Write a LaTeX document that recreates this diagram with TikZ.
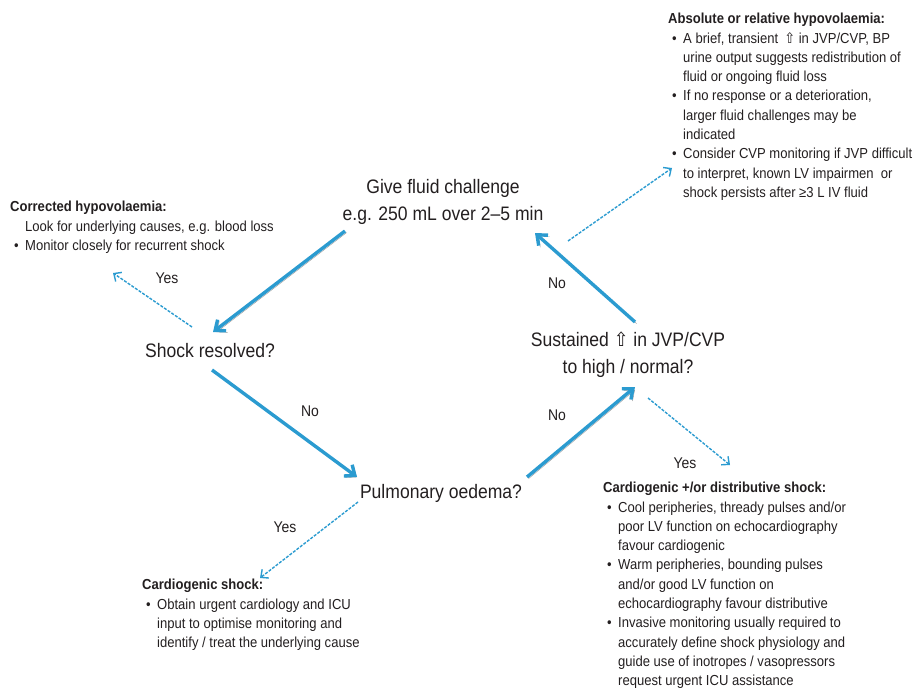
\documentclass[tikz,border=0pt]{standalone}
\usepackage{fontspec}
\setmainfont{Liberation Sans}[FakeStretch=0.9]
\newfontfamily\symfont{DejaVu Sans}[FakeStretch=0.9]
\usetikzlibrary{arrows.meta}
\definecolor{flowblue}{HTML}{2B9BD0}
\definecolor{inkgray}{HTML}{231F20}
\newcommand{\upar}{{\symfont ⇧}}
\newcommand{\itm}{\hspace*{4bp}\makebox[11bp][l]{\textbullet}}
\newcommand{\ind}{\hspace*{15bp}}
\tikzset{
  main/.style={font=\fontsize{19.5bp}{27bp}\selectfont, align=center, text=inkgray, inner sep=0},
  note/.style={font=\fontsize{14.5bp}{19.3bp}\selectfont, align=left, anchor=north west, text=inkgray, inner sep=0},
  lbl/.style={font=\fontsize{15.5bp}{18bp}\selectfont, text=inkgray, inner sep=0},
  flow/.style={draw=flowblue, line width=3.4bp, -{Straight Barb[length=8.5bp,width=14bp]},
    preaction={draw=gray!85, transform canvas={shift={(1.6bp,-1.6bp)}}}},
  hint/.style={draw=flowblue, line width=1.4bp, dash pattern=on 3bp off 1.4bp,
    -{Straight Barb[length=6bp,width=11bp]}}
}
\begin{document}
\begin{tikzpicture}[x=1bp, y=-1bp]
    % 1. Page frame
    \useasboundingbox (0,0) rectangle (920,688);

    % 2. Questions of the flow
    \node[main] (fluid) at (443,202) {Give fluid challenge\\e.g. 250 mL over 2–5 min};
    \node[main] (shock) at (210,351) {Shock resolved?};
    \node[main] (pulm) at (441,493) {Pulmonary oedema?};
    \node[main] (sust) at (628,355) {Sustained \upar\ in JVP/CVP\\to high / normal?};

    % 3. Side notes
    \node[note] (corr) at (10,201) {\textbf{Corrected hypovolaemia:}\\
        \ind Look for underlying causes, e.g. blood loss\\
        \itm Monitor closely for recurrent shock};
    \node[note] (abs) at (668,13) {\textbf{Absolute or relative hypovolaemia:}\\
        \itm A brief, transient \,\upar\ in JVP/CVP, BP\\
        \ind urine output suggests redistribution of\\
        \ind fluid or ongoing fluid loss\\
        \itm If no response or a deterioration,\\
        \ind larger fluid challenges may be\\
        \ind indicated\\
        \itm Consider CVP monitoring if JVP difficult\\
        \ind to interpret, known LV impairmen\ \ or\\
        \ind shock persists after ≥3 L IV fluid};
    \node[note] (card) at (603,482) {\textbf{Cardiogenic +/or distributive shock:}\\
        \itm Cool peripheries, thready pulses and/or\\
        \ind poor LV function on echocardiography\\
        \ind favour cardiogenic\\
        \itm Warm peripheries, bounding pulses\\
        \ind and/or good LV function on\\
        \ind echocardiography favour distributive\\
        \itm Invasive monitoring usually required to\\
        \ind accurately define shock physiology and\\
        \ind guide use of inotropes / vasopressors\\
        \ind request urgent ICU assistance};
    \node[note] (cshock) at (142,579) {\textbf{Cardiogenic shock:}\\
        \itm Obtain urgent cardiology and ICU\\
        \ind input to optimise monitoring and\\
        \ind identify / treat the underlying cause};

    % 4. Main arrows
    \draw[flow] ([shift={(-98,29)}]fluid.center) -- ([shift={(3,-19)}]shock.center);
    \draw[flow] ([shift={(2,19)}]shock.center) -- ([shift={(-84,-16)}]pulm.center);
    \draw[flow] ([shift={(86,-16)}]pulm.center) -- ([shift={(7,32)}]sust.center);
    \draw[flow] ([shift={(7,-33)}]sust.center) -- ([shift={(92,31)}]fluid.center);

    % 5. Dashed arrows to the notes
    \draw[hint] ([shift={(-18,-24)}]shock.center) -- ([shift={(103,72)}]corr.north west);
    \draw[hint] ([shift={(125,39)}]fluid.center) -- ([shift={(4,155)}]abs.north west);
    \draw[hint] ([shift={(20,43)}]sust.center) -- ([shift={(127,-17)}]card.north west);
    \draw[hint] ([shift={(-83,9)}]pulm.center) -- ([shift={(118,-1)}]cshock.north west);

    % 6. Yes / No
    \node[lbl] (yes1) at (167,278) {Yes};
    \node[lbl] (no1) at (310,411) {No};
    \node[lbl] (no2) at (557,283) {No};
    \node[lbl] (no3) at (557,415) {No};
    \node[lbl] (yes2) at (685,463) {Yes};
    \node[lbl] (yes3) at (285,527) {Yes};
\end{tikzpicture}
\end{document}
